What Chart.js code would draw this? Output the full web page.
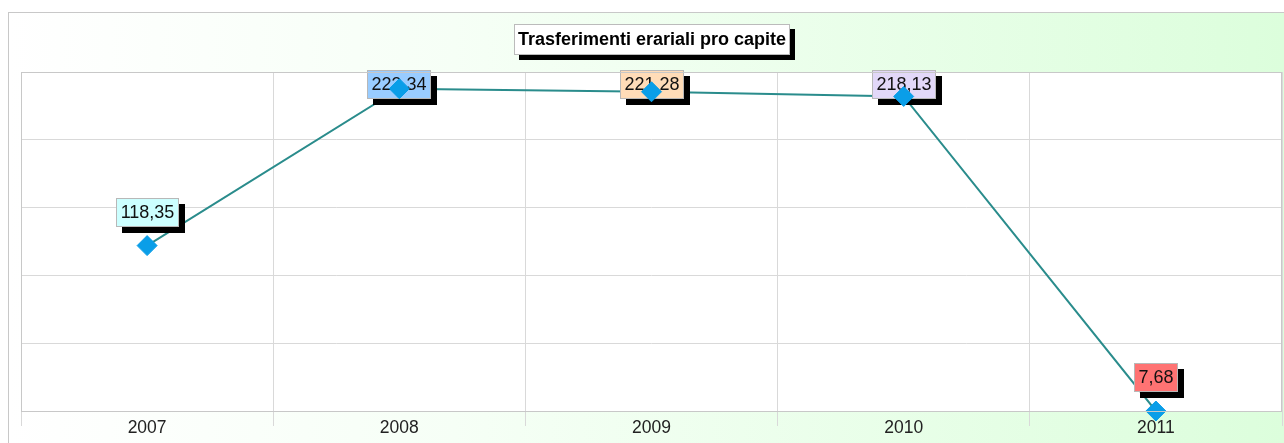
<!DOCTYPE html>
<html>
<head>
<meta charset="utf-8">
<script src="https://cdn.jsdelivr.net/npm/chart.js@4"></script>
<style>
	html, body { margin:0; padding:0; background:#fff; }
	#wrap { width:1284px; height:443px; }
</style>
</head>
<body>
<div id="wrap"><canvas id="chart" width="1284" height="443"></canvas></div>
<script>
var chartTitle = 'Trasferimenti erariali pro capite';
var years = ['2007', '2008', '2009', '2010', '2011'];
var values = [118.35, 223.34, 221.28, 218.13, 7.68];
var valueLabels = ['118,35', '223,34', '221,28', '218,13', '7,68'];
var boxColors = ['#ccffff', '#99ccff', '#ffdcb8', '#e2d8f8', '#ff7373'];
var yMin = 7.68;
var yMax = 234.5;

// background, outer frame and plot frame
var frameFn = {
	id : 'frameFn',
	beforeDraw : function(chart) {
		var ctx = chart.ctx;
		var area = chart.chartArea;
		ctx.save();
		ctx.fillStyle = '#fff';
		ctx.fillRect(0, 0, chart.width, chart.height);
		var grad = ctx.createLinearGradient(8, 0, chart.width, 0);
		grad.addColorStop(0, '#ffffff');
		grad.addColorStop(0.35, '#f6fff6');
		grad.addColorStop(1, '#dcfedc');
		ctx.fillStyle = grad;
		ctx.fillRect(8, 12, chart.width, chart.height);
		ctx.strokeStyle = '#c8c8c8';
		ctx.lineWidth = 1;
		ctx.strokeRect(8.5, 12.5, chart.width + 10, chart.height);
		ctx.fillStyle = '#fff';
		ctx.fillRect(area.left, area.top, area.right - area.left, area.bottom - area.top);
		ctx.restore();
	},
	afterDraw : function(chart) {
		var ctx = chart.ctx;
		var area = chart.chartArea;
		ctx.save();
		ctx.strokeStyle = '#c8c8c8';
		ctx.lineWidth = 1;
		ctx.strokeRect(area.left + 0.5, area.top + 0.5, area.right - area.left - 1, area.bottom - area.top);
		// title box
		ctx.font = 'bold 18px Arial, "Liberation Sans", sans-serif';
		var tw = ctx.measureText(chartTitle).width;
		var bw = Math.round(tw + 8), bh = 31;
		var bx = Math.round((area.left + area.right) / 2 - bw / 2), by = 24;
		ctx.fillStyle = '#000';
		ctx.fillRect(bx + 5, by + 5, bw, bh);
		ctx.fillStyle = '#fff';
		ctx.fillRect(bx, by, bw, bh);
		ctx.strokeStyle = '#bbb';
		ctx.strokeRect(bx + 0.5, by + 0.5, bw - 1, bh - 1);
		ctx.fillStyle = '#000';
		ctx.textAlign = 'center';
		ctx.textBaseline = 'middle';
		ctx.fillText(chartTitle, bx + bw / 2, by + bh / 2 + 1);
		ctx.restore();
	}
};

// value boxes, drawn after the line and before the markers
var valueBoxFn = {
	id : 'valueBoxFn',
	afterDatasetDraw : function(chart, args) {
		if (args.index !== 0) return;
		var ctx = chart.ctx;
		var area = chart.chartArea;
		var pts = chart.getDatasetMeta(0).data;
		ctx.save();
		ctx.font = '18px Arial, "Liberation Sans", sans-serif';
		ctx.textAlign = 'center';
		ctx.textBaseline = 'middle';
		for (var i = 0; i < pts.length; i++) {
			var w = Math.round(ctx.measureText(valueLabels[i]).width + 9);
			var h = 29;
			var x = Math.round(pts[i].x - w / 2);
			var y = Math.round(pts[i].y - 19 - h);
			if (y < area.top - 2) y = area.top - 2;
			ctx.fillStyle = '#000';
			ctx.fillRect(x + 6, y + 6, w, h);
			ctx.fillStyle = boxColors[i];
			ctx.fillRect(x, y, w, h);
			ctx.strokeStyle = '#b8b8b8';
			ctx.lineWidth = 1;
			ctx.strokeRect(x + 0.5, y + 0.5, w - 1, h - 1);
			ctx.fillStyle = '#111';
			ctx.fillText(valueLabels[i], x + w / 2, y + h / 2 + 1);
		}
		ctx.restore();
	}
};

var chartSet = new Chart(
	document.getElementById('chart'),
	{
		type : 'line',
		data : {
			labels : years,
			datasets : [
				{
					data : values,
					borderColor : '#2a8c8c',
					borderWidth : 2,
					pointRadius : 0,
					tension : 0,
					order : 2
				},
				{
					data : values,
					showLine : false,
					clip : false,
					pointStyle : 'rectRot',
					pointRadius : 10,
					pointBackgroundColor : '#0a9ee8',
					pointBorderColor : '#0a9ee8',
					pointBorderWidth : 1,
					order : 1
				}
			]
		},
		options : {
			responsive : false,
			animation : false,
			layout : { autoPadding : false, padding : { left : 21, top : 72, right : 2, bottom : 0 } },
			scales : {
				x : {
					offset : true,
					grid : { offset : true, color : '#d9d9d9', tickLength : 15 },
					border : { display : false },
					ticks : {
						color : '#222',
						padding : -8,
						font : { family : 'Arial, "Liberation Sans", sans-serif', size : 17.5 }
					},
					afterFit : function(scale) { scale.height = 32; }
				},
				y : {
					min : yMin,
					max : yMax,
					grid : { color : '#d9d9d9', drawTicks : false },
					border : { display : false },
					ticks : { display : false },
					afterBuildTicks : function(scale) {
						var step = (yMax - yMin) / 5;
						var t = [];
						for (var i = 0; i <= 5; i++) t.push({ value : yMin + step * i });
						scale.ticks = t;
					},
					afterFit : function(scale) { scale.width = 0; }
				}
			},
			plugins : {
				legend : { display : false },
				tooltip : { enabled : false },
				title : { display : false }
			}
		},
		plugins : [frameFn, valueBoxFn]
	}
);
</script>
</body>
</html>
